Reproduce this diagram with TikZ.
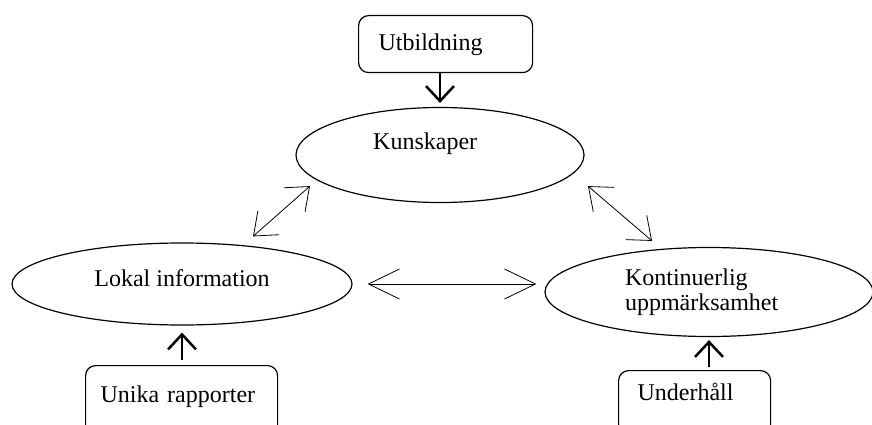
\documentclass[tikz,border=0pt]{standalone}
\usepackage{fontspec}
\setmainfont{Liberation Serif}
\usetikzlibrary{shapes.geometric,arrows.meta}

\begin{document}
\begin{tikzpicture}[x=1pt,y=-1pt,
		every node/.style={font=\fontsize{24}{25}\selectfont},
		oval/.style={draw, ellipse, line width=1.2pt, inner sep=1pt},
		ruta/.style={draw, rounded corners=10pt, line width=1.2pt, anchor=north west, align=left, inner ysep=4pt},
		tjockpil/.style={line width=2.5pt, -{Straight Barb[length=15pt,width=28pt]}},
		dubbelpil/.style={line width=0.8pt, {Straight Barb[length=20pt,width=32pt]}-{Straight Barb[length=20pt,width=32pt]}},
		langpil/.style={line width=0.8pt, {Straight Barb[length=31pt,width=30pt]}-{Straight Barb[length=31pt,width=30pt]}}]
		\useasboundingbox (0,0) rectangle (872,425);
		\clip (0,0) rectangle (872,425);

		% ovaler
		\node[oval, minimum width=288pt, minimum height=95pt] (kun) at (440,155) {};
		\node[anchor=base west, inner sep=0pt] (kuntxt) at (373,149) {Kunskaper};
		\node[oval, minimum width=340pt, minimum height=82pt, text depth=11pt] (lok) at (182,284) {Lokal information};
		\node[oval, minimum width=328pt, minimum height=89pt, text width=168pt, align=left] (kont) at (709,292) {Kontinuerlig\\uppmärksamhet};

		% rutor
		\node[ruta, text width=134pt, inner xsep=20pt, text height=31pt, text depth=18pt] (utb) at (358,15) {Utbildning};
		\node[ruta, text width=162pt, inner xsep=15pt, text height=33pt, text depth=30pt] (unika) at (85,365) {Unika rapporter};
		\node[ruta, text width=114pt, inner xsep=19pt, text height=26pt, text depth=30pt] (und) at (618,370) {Underhåll};

		\draw[tjockpil] (utb.south -| kun.north) -- ([yshift=4pt]kun.north);
		\draw[tjockpil] ([yshift=5pt]unika.north -| lok.south) -- ([yshift=-7pt]lok.south);
		\draw[tjockpil] ([yshift=3pt]und.north -| kont.south) -- ([yshift=-3pt]kont.south);

		\draw[dubbelpil] ([shift={(71,-6)}]lok.north) -- ([shift={(-130,-17)}]kun.south);
		\draw[dubbelpil] ([shift={(148,-17)}]kun.south) -- ([shift={(-57,-6)}]kont.north);
		\draw[langpil] ([xshift=15pt]lok.east) -- ([xshift=-8pt]lok.east -| kont.west);

	\end{tikzpicture}
\end{document}
